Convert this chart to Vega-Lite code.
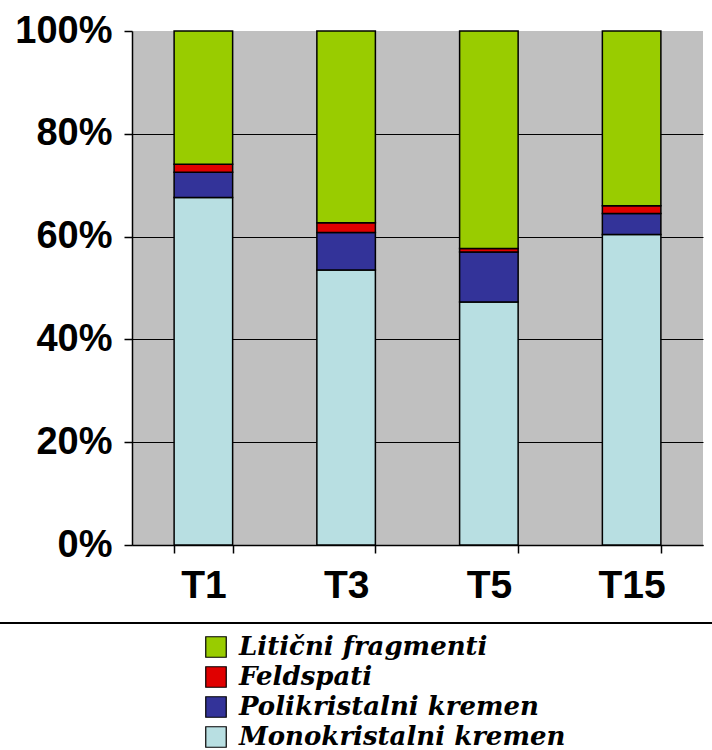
{
  "$schema": "https://vega.github.io/schema/vega-lite/v6.json",
  "width": 571,
  "height": 514,
  "autosize": {"type": "none"},
  "padding": {"left": 132, "top": 31, "right": 9, "bottom": 205},
  "background": "white",
  "view": {"fill": "#c0c0c0", "stroke": null},
  "config": {
    "legend": {"strokeWidth": 2}
  },
  "data": {
    "values": [
      {"sample": "T1", "comp": "Monokristalni kremen", "value": 67.6},
      {"sample": "T1", "comp": "Polikristalni kremen", "value": 4.9},
      {"sample": "T1", "comp": "Feldspati", "value": 1.6},
      {"sample": "T1", "comp": "Litični fragmenti", "value": 25.9},
      {"sample": "T3", "comp": "Monokristalni kremen", "value": 53.5},
      {"sample": "T3", "comp": "Polikristalni kremen", "value": 7.3},
      {"sample": "T3", "comp": "Feldspati", "value": 1.9},
      {"sample": "T3", "comp": "Litični fragmenti", "value": 37.3},
      {"sample": "T5", "comp": "Monokristalni kremen", "value": 47.3},
      {"sample": "T5", "comp": "Polikristalni kremen", "value": 9.7},
      {"sample": "T5", "comp": "Feldspati", "value": 0.7},
      {"sample": "T5", "comp": "Litični fragmenti", "value": 42.3},
      {"sample": "T15", "comp": "Monokristalni kremen", "value": 60.4},
      {"sample": "T15", "comp": "Polikristalni kremen", "value": 4.1},
      {"sample": "T15", "comp": "Feldspati", "value": 1.5},
      {"sample": "T15", "comp": "Litični fragmenti", "value": 34.0}
    ]
  },
  "transform": [
    {"calculate": "indexof(['Monokristalni kremen','Polikristalni kremen','Feldspati','Litični fragmenti'], datum.comp)", "as": "stackOrder"}
  ],
  "mark": {"type": "bar", "stroke": "black", "strokeWidth": 1.5},
  "encoding": {
    "x": {
      "field": "sample",
      "type": "nominal",
      "sort": ["T1", "T3", "T5", "T15"],
      "scale": {"paddingInner": 0.59, "paddingOuter": 0.295},
      "axis": {
        "title": null,
        "labelAngle": 0,
        "labelFont": "Liberation Sans",
        "labelFontWeight": "bold",
        "labelFontSize": 39,
        "labelColor": "black",
        "labelPadding": 13,
        "tickBand": "extent",
        "tickSize": 8,
        "tickColor": "black",
        "tickWidth": 1.5,
        "domainColor": "black",
        "domainWidth": 1.5,
        "grid": false
      }
    },
    "y": {
      "field": "value",
      "type": "quantitative",
      "stack": "normalize",
      "scale": {"domain": [0, 1]},
      "axis": {
        "title": null,
        "values": [0, 0.2, 0.4, 0.6, 0.8, 1],
        "format": ".0%",
        "labelFont": "Liberation Sans",
        "labelFontWeight": "bold",
        "labelFontSize": 38,
        "labelColor": "black",
        "labelPadding": 12,
        "tickSize": 8,
        "tickColor": "black",
        "tickWidth": 1.5,
        "domainColor": "black",
        "domainWidth": 1.5,
        "grid": true,
        "gridColor": {"condition": {"test": "datum.value >= 1", "value": "transparent"}, "value": "black"},
        "gridWidth": 1.2
      }
    },
    "color": {
      "field": "comp",
      "type": "nominal",
      "scale": {
        "domain": ["Litični fragmenti", "Feldspati", "Polikristalni kremen", "Monokristalni kremen"],
        "range": ["#99cc00", "#e00000", "#333399", "#b8dfe2"]
      },
      "legend": {
        "orient": "none",
        "legendX": -152,
        "legendY": 592,
        "title": " ",
        "titleOrient": "right",
        "titleFontSize": 1,
        "titlePadding": 220,
        "strokeColor": "black",
        "fillColor": "white",
        "padding": 11,
        "symbolType": "square",
        "symbolSize": 420,
        "symbolOffset": 212,
        "symbolStrokeColor": "black",
        "symbolStrokeWidth": 1.2,
        "symbolOpacity": 1,
        "labelFont": "DejaVu Serif",
        "labelFontStyle": "italic",
        "labelFontWeight": "bold",
        "labelFontSize": 26,
        "labelColor": "black",
        "labelOffset": 10,
        "labelLimit": 0,
        "rowPadding": 4
      }
    },
    "order": {"field": "stackOrder", "type": "quantitative"}
  }
}
